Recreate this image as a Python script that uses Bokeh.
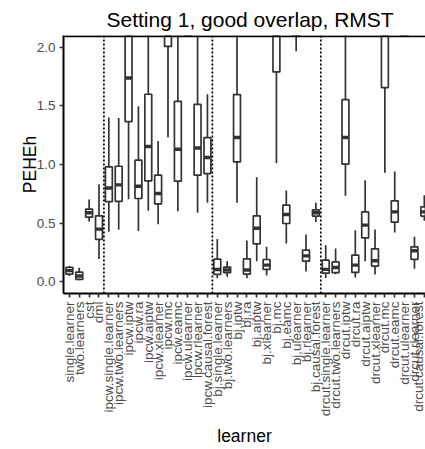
from math import pi
from bokeh.plotting import figure
from bokeh.models import Range1d, FixedTicker, Span, NumeralTickFormatter, AllLabels
from bokeh.embed import file_html
from bokeh.resources import INLINE

learners = [
    "single.learner", "two.learners", "cst", "dml",
    "ipcw.single.learner", "ipcw.two.learners", "ipcw.iptw", "ipcw.ra", "ipcw.aiptw",
    "ipcw.xlearner", "ipcw.mc", "ipcw.eamc", "ipcw.ulearner", "ipcw.rlearner", "ipcw.causal.forest",
    "bj.single.learner", "bj.two.learners", "bj.iptw", "bj.ra", "bj.aiptw",
    "bj.xlearner", "bj.mc", "bj.eamc", "bj.ulearner", "bj.rlearner", "bj.causal.forest",
    "drcut.single.learner", "drcut.two.learners", "drcut.iptw", "drcut.ra", "drcut.aiptw",
    "drcut.xlearner", "drcut.mc", "drcut.eamc", "drcut.ulearner", "drcut.rlearner", "drcut.causal.forest",
]
lower = [0.050, 0.014, 0.515, 0.195, 0.426, 0.446, 0.704, 0.432, 0.605, 0.491, 1.230, 0.602, 2.300,
         0.588, 0.673, 0.029, 0.043, 0.673, 0.029, 0.176, 0.054, 1.011, 0.327, 1.965, 0.088, 0.509,
         0.033, 0.065, 0.733, 0.037, 0.176, 0.063, 0.929, 0.421, 2.300, 0.111, 0.520]
q1 = [0.066, 0.020, 0.551, 0.362, 0.683, 0.685, 1.366, 0.710, 0.860, 0.664, 2.007, 0.858, 2.600,
      0.909, 0.923, 0.063, 0.077, 1.022, 0.066, 0.324, 0.105, 1.789, 0.497, 2.450, 0.176, 0.560,
      0.074, 0.078, 1.003, 0.080, 0.375, 0.134, 1.656, 0.509, 2.600, 0.191, 0.560]
median = [0.095, 0.049, 0.588, 0.449, 0.799, 0.826, 1.738, 0.815, 1.153, 0.753, 2.350, 1.130, 3.000,
          1.141, 1.060, 0.105, 0.100, 1.230, 0.100, 0.457, 0.142, 2.300, 0.574, 2.900, 0.221, 0.588,
          0.106, 0.122, 1.230, 0.142, 0.483, 0.179, 2.250, 0.596, 3.000, 0.265, 0.596]
q3 = [0.123, 0.082, 0.620, 0.562, 0.980, 0.985, 2.400, 1.037, 1.599, 0.909, 2.700, 1.539, 3.500,
      1.513, 1.230, 0.193, 0.125, 1.596, 0.196, 0.562, 0.190, 2.600, 0.653, 3.400, 0.270, 0.613,
      0.185, 0.169, 1.553, 0.227, 0.596, 0.281, 2.600, 0.690, 3.500, 0.298, 0.639]
upper = [0.134, 0.120, 0.702, 0.832, 1.400, 1.396, 3.200, 1.497, 2.500, 1.201, 3.400, 2.400, 5.000,
         2.500, 1.599, 0.364, 0.176, 2.400, 0.352, 0.892, 0.298, 3.500, 0.778, 4.500, 0.404, 0.673,
         0.311, 0.283, 2.300, 0.440, 0.866, 0.446, 3.600, 0.940, 5.000, 0.383, 0.738]
y_ticks = [0.0, 0.5, 1.0, 1.5, 2.0]

FONT = "Liberation Sans"
BOX_LINE = "#333333"
LW = 1.7

xs = list(range(1, len(learners) + 1))
half = 0.35

def family(name):
    head = name.split(".")[0]
    return head if head in ("ipcw", "bj", "drcut") else "base"

p = figure(width=425, height=449, x_range=Range1d(0.4, 37.12), y_range=Range1d(-0.1, 2.1),
           output_backend="svg", toolbar_location=None,
           min_border_left=63, min_border_right=0, min_border_top=35, min_border_bottom=156)
p.title.text = "Setting 1, good overlap, RMST"
p.title.text_font = FONT
p.title.text_font_size = "21px"
p.title.text_font_style = "normal"
p.title.text_color = "black"
p.title.align = "left"
p.title.offset = 43
p.title.standoff = 10

p.xgrid.visible = False
p.ygrid.visible = False
p.outline_line_color = None
p.background_fill_color = "white"

# whiskers
p.segment(x0=xs, y0=q3, x1=xs, y1=upper, line_color=BOX_LINE, line_width=LW)
p.segment(x0=xs, y0=lower, x1=xs, y1=q1, line_color=BOX_LINE, line_width=LW)
# boxes
p.vbar(x=xs, width=2 * half, bottom=q1, top=q3, fill_color="white",
       line_color=BOX_LINE, line_width=LW)
# medians
p.segment(x0=[x - half for x in xs], y0=median, x1=[x + half for x in xs], y1=median,
          line_color=BOX_LINE, line_width=2 * LW)

# group separators
for i in range(1, len(learners)):
    if family(learners[i]) != family(learners[i - 1]):
        p.add_layout(Span(location=(xs[i] + xs[i - 1]) / 2, dimension="height",
                          line_color="black", line_width=LW, line_dash="2 2"))

# top border line
p.add_layout(Span(location=2.1 - 0.007, dimension="width", line_color="black", line_width=2))

for ax in (p.xaxis[0], p.yaxis[0]):
    ax.axis_line_color = "black"
    ax.axis_line_width = 2
    ax.major_tick_line_color = BOX_LINE
    ax.major_tick_line_width = LW
    ax.major_tick_out = 4
    ax.major_tick_in = 0
    ax.minor_tick_line_color = None
    ax.major_label_text_font = FONT
    ax.major_label_text_font_size = "13.5px"
    ax.major_label_text_color = "#4D4D4D"
    ax.axis_label_text_font = FONT
    ax.axis_label_text_font_size = "17.5px"
    ax.axis_label_text_font_style = "normal"
    ax.axis_label_text_color = "black"
    ax.major_label_policy = AllLabels()

p.xaxis.ticker = FixedTicker(ticks=xs)
p.xaxis.major_label_overrides = {x: name for x, name in zip(xs, learners)}
p.xaxis.major_label_orientation = pi / 2
p.xaxis.major_label_standoff = 4
p.xaxis.axis_label = "learner"
p.xaxis.axis_label_standoff = 7

p.yaxis.ticker = FixedTicker(ticks=y_ticks)
p.yaxis.formatter = NumeralTickFormatter(format="0.0")
p.yaxis.major_label_standoff = 4
p.yaxis.axis_label = "PEHEh"
p.yaxis.axis_label_standoff = -6

open("out.html", "w").write(file_html(p, INLINE))
